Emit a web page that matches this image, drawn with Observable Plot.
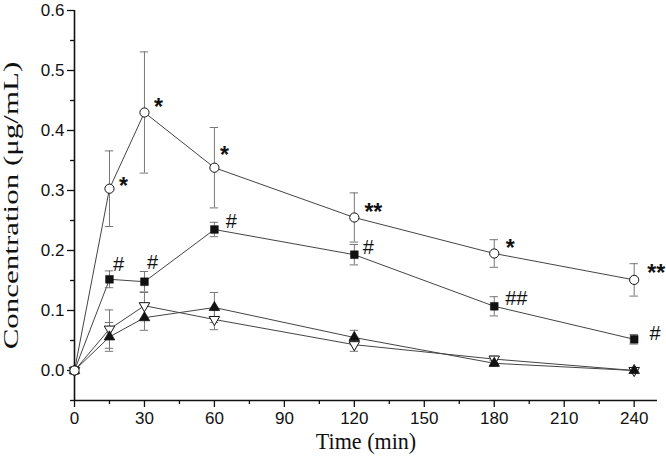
<!DOCTYPE html>
<html><head><meta charset="utf-8">
<script src="https://cdn.jsdelivr.net/npm/d3@7"></script>
<script src="https://cdn.jsdelivr.net/npm/@observablehq/plot@0.6"></script>
<style>body{margin:0;background:#fff} svg{display:block;background:#fff}</style>
</head><body><div id="chart"></div>
<script>
const times = [0, 15, 30, 60, 120, 180, 240];
const circleMean = [0, 0.303, 0.430, 0.338, 0.255, 0.195, 0.151];
const circleSD   = [0, 0.063, 0.101, 0.067, 0.041, 0.023, 0.027];
const squareMean = [0, 0.152, 0.148, 0.235, 0.193, 0.107, 0.052];
const squareSD   = [0, 0.014, 0.017, 0.012, 0.017, 0.016, 0.008];
const triUpMean  = [0, 0.056, 0.088, 0.105, 0.055, 0.012, 0];
const triUpSD    = [0, 0.024, 0.021, 0.025, 0.012, 0.005, 0];
const triDownMean = [0, 0.069, 0.108, 0.085, 0.043, 0.019, 0];
const triDownSD   = [0, 0.032, 0.022, 0.017, 0.011, 0.005, 0];
const circleMarks = ["", "*", "*", "*", "**", "*", "**"];
const squareMarks = ["", "#", "#", "#", "#", "##", "#"];
const xTicks = [0, 30, 60, 90, 120, 150, 180, 210, 240];
const yTicks = [0, 0.1, 0.2, 0.3, 0.4, 0.5, 0.6];
const xTitle = "Time (min)";
const yTitle = "Concentration (μg/mL)";

const mk = (name, means, sds) => times.map((t, i) => ({series: name, t, v: means[i], sd: sds[i]}));
const circles = mk("circle", circleMean, circleSD);
const squares = mk("square", squareMean, squareSD);
const triUp = mk("triUp", triUpMean, triUpSD);
const triDown = mk("triDown", triDownMean, triDownSD);
const all = [...circles, ...squares, ...triUp, ...triDown];
const bars = all.filter(d => d.sd > 0);

// layout offsets for annotations (pixels)
const circleOff = [null, [14,-2], [14,-5], [10,-12], [19,-5], [16,-5], [22,-6]];
const squareOff = [null, [9,-15], [8,-19], [17,-8], [14,-7], [22,-8], [21,-6]];

const lineColor = "#444";
const barColor = "#777";
const sans = "Liberation Sans, Arial, sans-serif";
const serif = "Liberation Serif, Times New Roman, serif";

const annot = [];
circles.forEach((d, i) => { if (circleMarks[i]) annot.push(Plot.text([d], {x: "t", y: "v", text: () => circleMarks[i], dx: circleOff[i][0], dy: circleOff[i][1], fontSize: 23, fontWeight: "bold", fontFamily: sans, fill: "#111"})); });
squares.forEach((d, i) => { if (squareMarks[i]) annot.push(Plot.text([d], {x: "t", y: "v", text: () => squareMarks[i], dx: squareOff[i][0], dy: squareOff[i][1], fontSize: 20, fontFamily: sans, fill: "#111"})); });

const chart = Plot.plot({
  width: 666, height: 464,
  marginLeft: 74, marginRight: 9, marginTop: 10, marginBottom: 64,
  style: {fontFamily: sans, fontSize: "17px", color: "#111", background: "#fff"},
  x: {domain: [0, 250], axis: null},
  y: {domain: [-0.05, 0.6], axis: null},
  marks: [
    Plot.axisX({ticks: xTicks, tickSize: 7, tickPadding: 4, tickFormat: d3.format("d"), label: null, strokeWidth: 1.3, fontSize: 17}),
    Plot.axisX({ticks: d3.range(15, 250, 30), tickSize: 4, tickFormat: () => "", label: null, strokeWidth: 1.3}),
    Plot.axisY({ticks: yTicks, tickSize: 7, tickPadding: 3, tickFormat: d3.format(".1f"), label: null, strokeWidth: 1.3, fontSize: 17}),
    Plot.axisY({ticks: [-0.05, 0.05, 0.15, 0.25, 0.35, 0.45, 0.55], tickSize: 4, tickFormat: () => "", label: null, strokeWidth: 1.3}),
    Plot.ruleY([-0.05], {stroke: "#111", strokeWidth: 1.6}),
    Plot.ruleX([0], {stroke: "#111", strokeWidth: 1.6, y1: -0.05, y2: 0.6}),
    Plot.line(all, {x: "t", y: "v", z: "series", stroke: lineColor, strokeWidth: 1}),
    Plot.ruleX(bars, {x: "t", y1: d => d.v - d.sd, y2: d => d.v + d.sd, stroke: barColor, strokeWidth: 1}),
    Plot.ruleY(bars, {y: d => d.v + d.sd, x1: d => d.t - 1.8, x2: d => d.t + 1.8, stroke: barColor, strokeWidth: 1}),
    Plot.ruleY(bars, {y: d => d.v - d.sd, x1: d => d.t - 1.8, x2: d => d.t + 1.8, stroke: barColor, strokeWidth: 1}),
    Plot.dot(triDown, {x: "t", y: "v", symbol: "triangle", rotate: 180, r: 3.9, fill: "white", stroke: "#111", strokeWidth: 1}),
    Plot.dot(triUp, {x: "t", y: "v", symbol: "triangle", r: 3.9, fill: "#111", stroke: "#111", strokeWidth: 0.8}),
    Plot.dot(squares, {x: "t", y: "v", symbol: "square", r: 4.4, fill: "#111", stroke: "#111", strokeWidth: 0.5}),
    Plot.dot(circles, {x: "t", y: "v", symbol: "circle", r: 4.6, fill: "white", stroke: "#111", strokeWidth: 1}),
    ...annot,
    Plot.text([xTitle], {frameAnchor: "bottom", dy: 48, fontSize: 24, fontFamily: serif, fill: "#111"}),
    Plot.text([yTitle], {frameAnchor: "left", textAnchor: "middle", rotate: -90, dx: -57, fontSize: 31, fontFamily: serif, fill: "#111"})
  ]
});
// the reference figure is squeezed horizontally; mimic that on the titles
function squash(el, sx, sy) {
  const t = el.getAttribute("transform") || "";
  const x = +el.getAttribute("x") || 0, y = +el.getAttribute("y") || 0;
  el.removeAttribute("x"); el.removeAttribute("y");
  el.setAttribute("transform", `${t} translate(${x},${y}) scale(${sx},${sy})`);
}
chart.querySelectorAll("text").forEach(el => {
  if (el.textContent === yTitle) squash(el, 1, 0.65);
  else if (el.textContent === xTitle) squash(el, 0.92, 1);
});
document.getElementById("chart").appendChild(chart);
</script></body></html>
